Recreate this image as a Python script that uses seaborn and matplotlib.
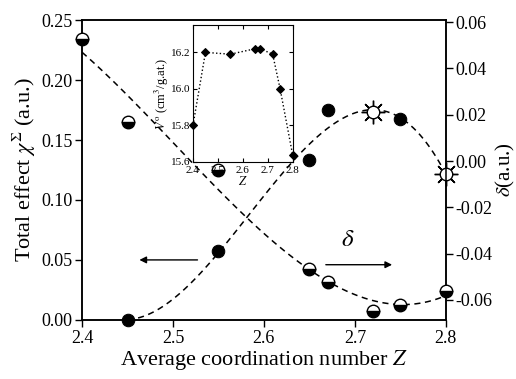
#!/usr/bin/env python3

# Total effect and delta vs average coordination number, with molar volume inset.

import matplotlib
matplotlib.use('Agg')
import matplotlib.pyplot as plt
import numpy as np
import seaborn as sns

# left axis: total effect (filled circles + sun markers)
z_filled = np.array([2.45, 2.55, 2.65, 2.67, 2.75])
chi_filled = np.array([0.000, 0.0575, 0.133, 0.175, 0.1675])
z_sun = np.array([2.72, 2.80])
chi_sun = np.array([0.173, 0.122])

# right axis: delta (half-filled circles)
z_delta = np.array([2.40, 2.45, 2.55, 2.65, 2.67, 2.72, 2.75, 2.80])
delta = np.array([0.0527, 0.0168, -0.0039, -0.0466, -0.0522, -0.0647, -0.0622, -0.0561])

# inset: molar volume
z_vol = np.array([2.40, 2.45, 2.55, 2.65, 2.67, 2.72, 2.75, 2.80])
vol = np.array([15.80, 16.20, 16.19, 16.22, 16.22, 16.19, 16.00, 15.64])

x_ticks = [2.4, 2.5, 2.6, 2.7, 2.8]
left_ticks = [0.00, 0.05, 0.10, 0.15, 0.20, 0.25]
right_ticks = [-0.06, -0.04, -0.02, 0.00, 0.02, 0.04, 0.06]
inset_yticks = [15.6, 15.8, 16.0, 16.2]

sns.set_style('ticks', {'axes.edgecolor': 'black', 'text.color': 'black',
                        'axes.labelcolor': 'black', 'xtick.color': 'black',
                        'ytick.color': 'black'})
plt.rcParams['font.family'] = ['Liberation Serif', 'DejaVu Serif']
plt.rcParams['mathtext.fontset'] = 'stix'

fig = plt.figure(figsize=(5.16, 3.79), dpi=100)
ax = fig.add_axes([0.159, 0.156, 0.705, 0.791])
ax2 = ax.twinx()

dash = dict(color='black', linestyle=(0, (4, 3)), lw=1.1)

# rising curve on left axis
z_all = np.concatenate([z_filled, z_sun])
chi_all = np.concatenate([chi_filled, chi_sun])
sns.regplot(x=z_all, y=chi_all, order=3, ci=None, scatter=False, ax=ax, line_kws=dash)
sns.lineplot(x=z_filled, y=chi_filled, ax=ax, marker='o', linestyle='', color='black',
             markersize=9, markeredgecolor='black', markerfacecolor='black',
             estimator=None, sort=False, clip_on=False, zorder=5)
sns.lineplot(x=z_sun, y=chi_sun, ax=ax, marker=(8, 2, 0), linestyle='', color='black',
             markersize=17, markeredgecolor='black', markeredgewidth=1.0,
             estimator=None, sort=False, clip_on=False, zorder=5)
sns.lineplot(x=z_sun, y=chi_sun, ax=ax, marker='o', linestyle='', color='black',
             markersize=9, markeredgecolor='black', markerfacecolor='white',
             markeredgewidth=1.0, estimator=None, sort=False, clip_on=False, zorder=6)

# descending curve on right axis
sns.regplot(x=z_delta, y=delta, order=3, ci=None, scatter=False, ax=ax2, line_kws=dash)
sns.lineplot(x=z_delta, y=delta, ax=ax2, marker='o', linestyle='', color='black',
             markersize=9, markeredgecolor='black', markerfacecolor='black',
             markerfacecoloralt='white', fillstyle='bottom', markeredgewidth=1.0,
             estimator=None, sort=False, clip_on=False, zorder=5)

ax.set_xlim(2.4, 2.8)
ax.set_ylim(0, 0.25)
ax2.set_ylim(-0.0686, 0.0609)
ax.set_xticks(x_ticks)
ax.set_xticklabels(['{:.1f}'.format(v) for v in x_ticks])
ax.set_yticks(left_ticks)
ax.set_yticklabels(['{:.2f}'.format(v) for v in left_ticks])
ax2.set_yticks(right_ticks)
ax2.set_yticklabels(['{:.2f}'.format(v) for v in right_ticks])
for a in (ax, ax2):
    a.tick_params(labelsize=13, length=5, width=1, direction='out', pad=2)
    for s in a.spines.values():
        s.set_linewidth(1.1)
ax.tick_params(axis='y', right=False)

ax.set_xlabel('Average coordination number $Z$', fontsize=16, labelpad=1)
ax.set_ylabel(r'Total effect $\chi^{\Sigma}$ (a.u.)', fontsize=16, labelpad=2)
ax2.set_ylabel(r'$\delta$(a.u.)', fontsize=15, labelpad=1)

# direction arrows and label
arrow = dict(arrowstyle='-|>', color='black', lw=1.0, mutation_scale=10)
ax.annotate('', xy=(2.46, 0.050), xytext=(2.53, 0.050), arrowprops=arrow)
ax.annotate('', xy=(2.744, 0.046), xytext=(2.665, 0.046), arrowprops=arrow)
ax.text(2.692, 0.067, r'$\delta$', fontsize=18, ha='center', va='center')

# inset
axi = fig.add_axes([0.374, 0.573, 0.193, 0.361])
axi.plot(z_vol, vol, linestyle=':', color='black', lw=1.0)
sns.lineplot(x=z_vol, y=vol, ax=axi, marker='D', linestyle='', color='black',
             markersize=4.5, markeredgecolor='black', markerfacecolor='black',
             estimator=None, sort=False, clip_on=False, zorder=5)
axi.set_xlim(2.4, 2.8)
axi.set_ylim(15.6, 16.35)
axi.set_xticks(x_ticks)
axi.set_xticklabels(['{:.1f}'.format(v) for v in x_ticks])
axi.set_yticks(inset_yticks)
axi.set_yticklabels(['{:.1f}'.format(v) for v in inset_yticks])
axi.tick_params(labelsize=8, length=3, direction='in', top=True, right=True)
axi.tick_params(axis='x', pad=3)
axi.tick_params(axis='y', pad=2)
axi.set_xlabel('$Z$', fontsize=9, labelpad=0)
axi.set_ylabel(r'$V^{\rm o}$ (cm$^3$/g.at.)', fontsize=9, labelpad=0)

fig.savefig('out.png', dpi=100)
